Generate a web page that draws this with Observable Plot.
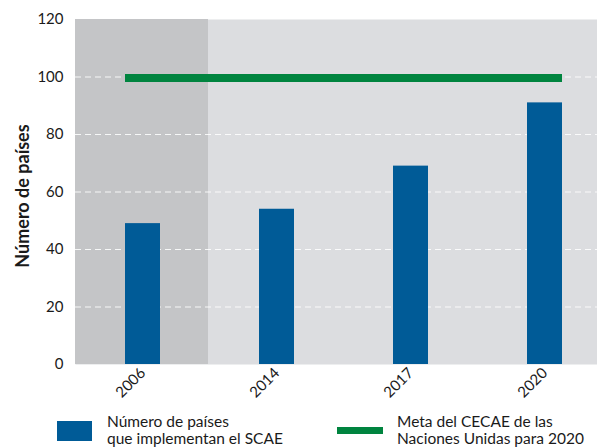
<!DOCTYPE html>
<html>
<head>
<meta charset="utf-8">
<script src="https://cdn.jsdelivr.net/npm/d3@7"></script>
<script src="https://cdn.jsdelivr.net/npm/@observablehq/plot@0.6"></script>
<style>
  html, body { margin: 0; padding: 0; background: white; overflow: hidden; }
  #wrap { position: relative; width: 597px; height: 447px; overflow: hidden; font-family: Lato, "Open Sans", sans-serif; color: #1a1a1a; }
  #chart { position: absolute; left: 0; top: 0; width: 611px; }
  #chart svg { max-width: none !important; }
  .sw { position: absolute; }
  .lt { position: absolute; font-size: 15.5px; line-height: 16px; white-space: nowrap; }
  #ylab { position: absolute; left: 22px; top: 196px; transform: translate(-50%, -50%) rotate(-90deg); font-weight: bold; font-size: 18px; white-space: nowrap; }
</style>
</head>
<body>
<div id="wrap">
  <div id="chart"></div>
  <div id="ylab"></div>
  <div class="sw" style="left:57px; top:421px; width:35px; height:20px; background:#005b97;"></div>
  <div class="lt" style="left:107px; top:413px;">Número de países</div>
  <div class="lt" style="left:107px; top:430px;">que implementan el SCAE</div>
  <div class="sw" style="left:337px; top:427px; width:46px; height:7px; background:#00843f;"></div>
  <div class="lt" style="left:397px; top:413px;">Meta del CECAE de las</div>
  <div class="lt" style="left:397px; top:430px;">Naciones Unidas para 2020</div>
</div>
<script>
const years = ["2006", "2014", "2017", "2020"];
const countries = [49, 54, 69, 91];
const target = 100;
const yTicks = [0, 20, 40, 60, 80, 100, 120];
const gridTicks = [20, 40, 60, 80, 100];
const yLabel = "Número de países";

const data = years.map((year, i) => ({year, n: countries[i]}));
document.getElementById("ylab").textContent = yLabel;

const chart = Plot.plot({
  width: 611,
  height: 400,
  marginLeft: 75,
  marginRight: 0,
  marginTop: 19,
  marginBottom: 36,
  style: {fontFamily: "Lato, 'Open Sans', sans-serif", fontSize: "15px", color: "#1a1a1a", background: "white", maxWidth: "none"},
  x: {domain: years, paddingInner: 0.74, paddingOuter: 0.37, label: null},
  y: {domain: [0, 120], label: null},
  marks: [
    Plot.frame({fill: "#dcdde0", stroke: null}),
    Plot.barY([years[0]], {x: d => d, y1: 0, y2: 120, fill: "#c4c5c7", insetLeft: -50, insetRight: -48}),
    Plot.ruleY(gridTicks, {stroke: "white", strokeDasharray: "6,4", strokeOpacity: 0.85, strokeWidth: 1.2}),
    Plot.barY(data, {x: "year", y: "n", fill: "#005b97"}),
    Plot.ruleY([target], {y: d => d, x1: () => years[0], x2: () => years[years.length - 1], stroke: "#00843f", strokeWidth: 8, dy: 1}),
    Plot.axisY(yTicks, {tickSize: 0, tickPadding: 12, fontSize: 15, label: null}),
    Plot.axisX({tickSize: 0, tickRotate: -45, tickPadding: 6, fontSize: 15, label: null})
  ]
});
document.getElementById("chart").appendChild(chart);
</script>
</body>
</html>
